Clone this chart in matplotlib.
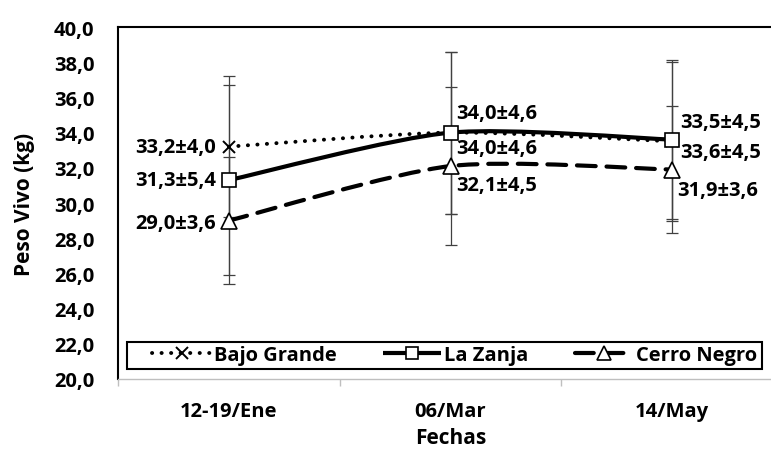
import matplotlib
matplotlib.use("Agg")
import matplotlib.pyplot as plt
from matplotlib.path import Path
from matplotlib.patches import PathPatch, Rectangle
from matplotlib.lines import Line2D

# ---- data -------------------------------------------------------------
fechas = ["12-19/Ene", "06/Mar", "14/May"]
series_names = ["Bajo Grande", "La Zanja", "Cerro Negro"]
bajo_grande = [33.2, 34.0, 33.5]
bajo_grande_sd = [4.0, 4.6, 4.5]
la_zanja = [31.3, 34.0, 33.6]
la_zanja_sd = [5.4, 4.6, 4.5]
cerro_negro = [29.0, 32.1, 31.9]
cerro_negro_sd = [3.6, 4.5, 3.6]
yticks = [20, 22, 24, 26, 28, 30, 32, 34, 36, 38, 40]

FONT = ["Open Sans", "DejaVu Sans"]
plt.rcParams["font.family"] = FONT
plt.rcParams["font.weight"] = "bold"
FS = 14.5

W, H = 771, 456
AX_L, AX_T, AX_B, AX_W = 118, 28, 380, 665
fig = plt.figure(figsize=(W / 100, H / 100), dpi=100)
ax = fig.add_axes([AX_L / W, (H - AX_B) / H, AX_W / W, (AX_B - AX_T) / H])
ax.set_xlim(-0.5, 2.5)
ax.set_ylim(20, 40)

PX = 72 / 100  # points per pixel
TENSION = 0.13


def smooth_path(xs, ys):
    """Cubic Bezier path through the points (Catmull-Rom style tangents)."""
    pts = list(zip(xs, ys))
    n = len(pts)
    verts = [pts[0]]
    codes = [Path.MOVETO]
    for i in range(n - 1):
        p0 = pts[i - 1] if i > 0 else pts[i]
        p1 = pts[i]
        p2 = pts[i + 1]
        p3 = pts[i + 2] if i + 2 < n else pts[i + 1]
        c1 = (p1[0] + (p2[0] - p0[0]) * TENSION, p1[1] + (p2[1] - p0[1]) * TENSION)
        c2 = (p2[0] - (p3[0] - p1[0]) * TENSION, p2[1] - (p3[1] - p1[1]) * TENSION)
        verts += [c1, c2, p2]
        codes += [Path.CURVE4] * 3
    return Path(verts, codes)


xpos = list(range(len(fechas)))

styles = [
    dict(vals=bajo_grande, sd=bajo_grande_sd,
         ls=(0, (0.05, 2.4)), lw=2.8, cap="round",
         marker="x", ms=9, mfc="black", mew=1.4),
    dict(vals=la_zanja, sd=la_zanja_sd,
         ls="-", lw=3.0, cap="butt",
         marker="s", ms=10, mfc="white", mew=1.2),
    dict(vals=cerro_negro, sd=cerro_negro_sd,
         ls=(0, (4.5, 2.6)), lw=3.0, cap="round",
         marker="^", ms=11, mfc="white", mew=1.2),
]

for st in styles:
    ax.errorbar(xpos, st["vals"], yerr=st["sd"], fmt="none",
                ecolor="#404040", elinewidth=0.9, capsize=4,
                capthick=0.9, zorder=2)

for st in styles:
    patch = PathPatch(smooth_path(xpos, st["vals"]), fill=False,
                      edgecolor="black", lw=st["lw"], linestyle=st["ls"],
                      capstyle=st["cap"], joinstyle="round", zorder=3)
    ax.add_patch(patch)
    ax.plot(xpos, st["vals"], linestyle="none", marker=st["marker"],
            ms=st["ms"], mfc=st["mfc"], mec="black", mew=st["mew"],
            zorder=4)


def fmt(v, s):
    return f"{v:.1f}".replace(".", ",") + "±" + f"{s:.1f}".replace(".", ",")


# label offsets in pixels (dx, dy) and horizontal alignment per point
offsets = [
    [(-13, 0, "right"), (6, -15, "left"), (8, 19, "left")],
    [(-13, 0, "right"), (6, 20, "left"), (8, -12, "left")],
    [(-13, -2, "right"), (6, -19, "left"), (5, -20, "left")],
]
for st, offs in zip(styles, offsets):
    for x, v, s, (dx, dy, ha) in zip(xpos, st["vals"], st["sd"], offs):
        ax.annotate(fmt(v, s), (x, v), xytext=(dx * PX, dy * PX),
                    textcoords="offset points", ha=ha, va="center",
                    fontsize=FS, fontweight="bold", zorder=5)

# axes styling
for side in ("left", "top"):
    ax.spines[side].set_color("black")
    ax.spines[side].set_linewidth(1.5)
ax.spines["right"].set_visible(False)
ax.spines["bottom"].set_color("#BFBFBF")
ax.spines["bottom"].set_linewidth(1.0)

ax.set_yticks(yticks)
ax.set_yticklabels([f"{t:.1f}".replace(".", ",") for t in yticks])
ax.tick_params(axis="y", length=0, pad=17, labelsize=FS)
ax.set_xticks(xpos)
ax.set_xticklabels(fechas)
ax.tick_params(axis="x", which="major", length=0, pad=16, labelsize=FS)
ax.set_xticks([-0.5, 0.5, 1.5, 2.5], minor=True)
ax.tick_params(axis="x", which="minor", length=5, color="#BFBFBF", width=1)
for lab in ax.get_xticklabels() + ax.get_yticklabels():
    lab.set_fontweight("bold")

ax.set_ylabel("Peso Vivo (kg)", fontsize=FS + 0.5, fontweight="bold")
ax.set_xlabel("Fechas", fontsize=FS + 0.5, fontweight="bold", labelpad=4)
ax.yaxis.set_label_coords(-(AX_L - 35) / AX_W, 0.5)

# legend: framed box inside the plot area, entries centred in it
LG_L, LG_R, LG_T, LG_B = 127, 762, 343, 370
to_ax = lambda px, py: ((px - AX_L) / AX_W, (AX_B - py) / (AX_B - AX_T))
x0, y0 = to_ax(LG_L, LG_B)
x1, y1 = to_ax(LG_R, LG_T)
ax.add_patch(Rectangle((x0, y0), x1 - x0, y1 - y0, transform=ax.transAxes,
                       facecolor="white", edgecolor="black", lw=1.5,
                       zorder=6))

handles = []
for st, name in zip(styles, series_names):
    handles.append(Line2D([], [], color="black", lw=st["lw"], linestyle=st["ls"],
                          solid_capstyle="butt", dash_capstyle=st["cap"],
                          marker=st["marker"], ms=st["ms"] * 0.9,
                          mfc=st["mfc"], mec="black", mew=st["mew"]))
cx, cy = to_ax(455, (LG_T + LG_B) / 2)
leg = ax.legend(handles, series_names, loc="center", ncol=3,
                bbox_to_anchor=(cx, cy), frameon=False,
                borderpad=0.0, handlelength=2.9,
                handletextpad=0.15, columnspacing=2.3,
                borderaxespad=0.0,
                prop=dict(family=FONT, weight="bold", size=FS))
leg.set_zorder(7)

fig.savefig("out.png", dpi=100)
